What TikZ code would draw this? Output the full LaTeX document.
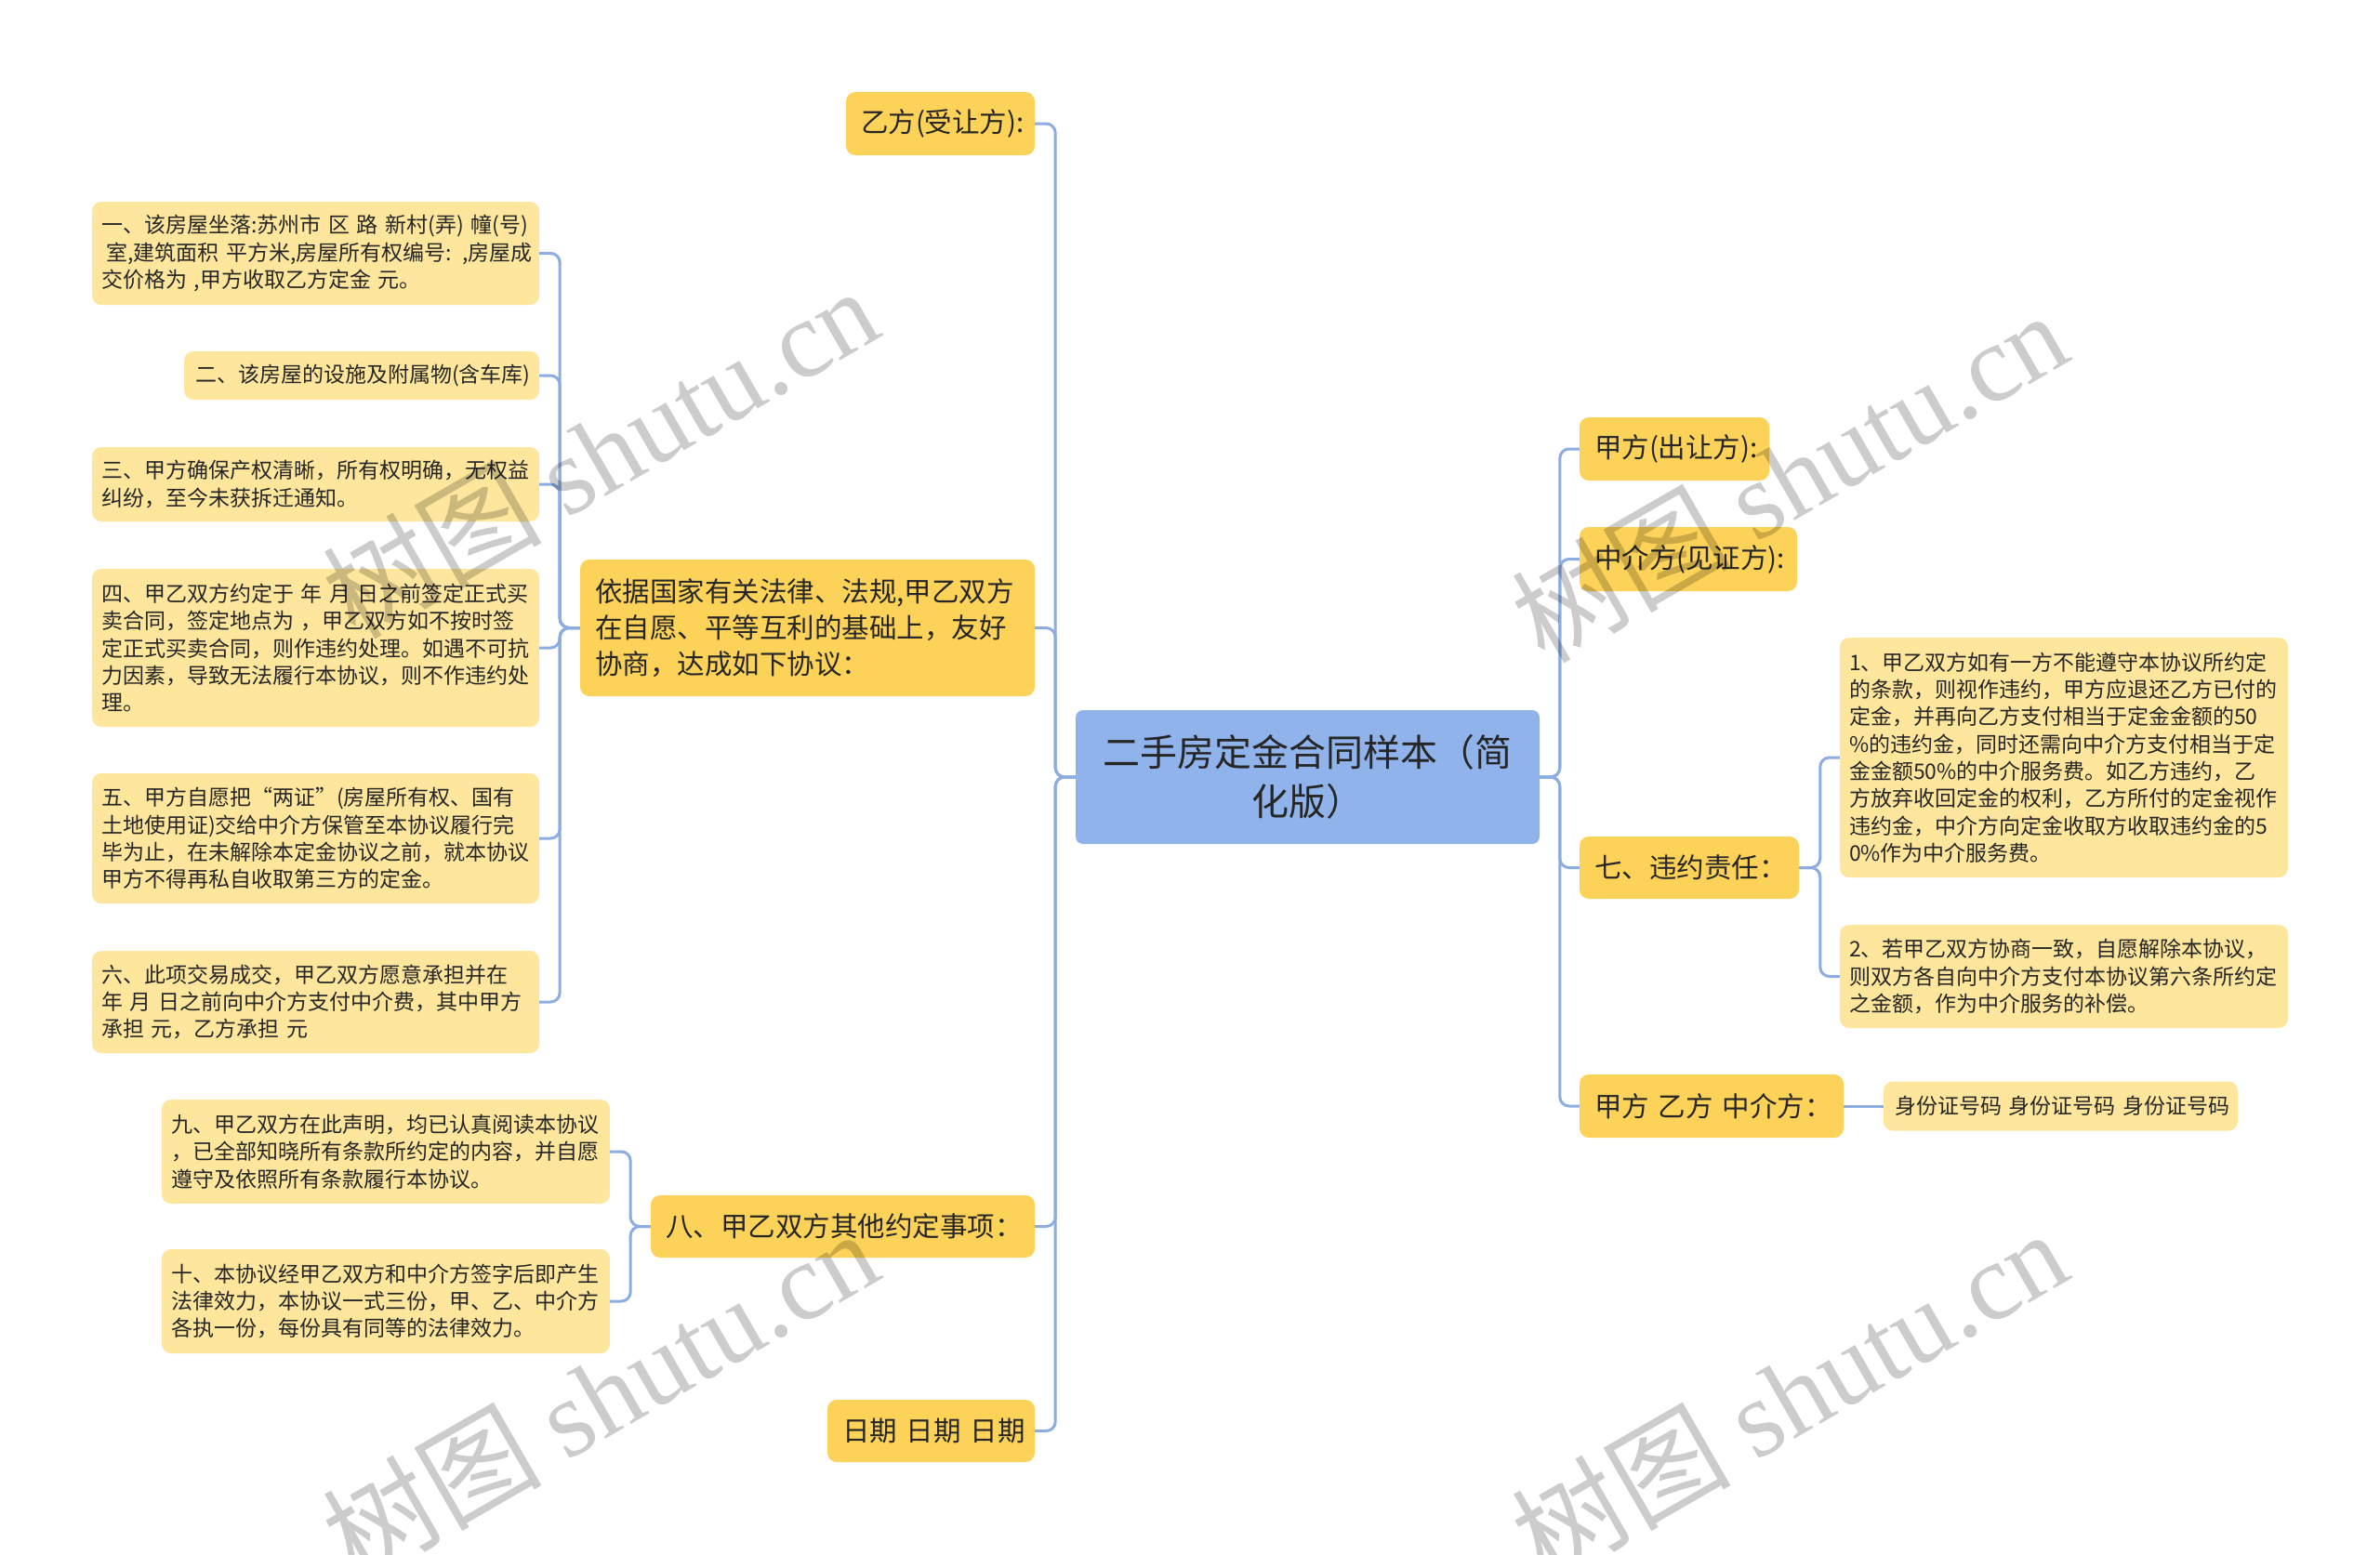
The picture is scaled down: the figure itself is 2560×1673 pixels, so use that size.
\documentclass[tikz,border=0pt]{standalone}
\usepackage{fontspec}
\setmainfont{Noto Sans CJK SC}
\newfontfamily\wmserif{Liberation Serif}
\definecolor{lone}{RGB}{253,210,88}
\definecolor{ltwo}{RGB}{254,230,156}
\definecolor{rootc}{RGB}{143,179,234}
\definecolor{linec}{RGB}{140,172,226}
\definecolor{txt}{RGB}{38,38,38}
\tikzset{
  base/.style={rounded corners=10pt, inner ysep=0pt, text=txt, align=left},
  lone/.style={base, fill=lone, inner xsep=16pt, font=\fontsize{29.5}{39}\selectfont},
  ltwo/.style={base, fill=ltwo, inner xsep=10pt, font=\fontsize{23}{29.3}\selectfont},
  rootbox/.style={rounded corners=8pt, fill=rootc, text=txt, align=center, inner xsep=10pt, inner ysep=0pt, font=\fontsize{40}{53}\selectfont},
  conn/.style={draw=linec, line width=3pt, rounded corners=10pt},
  wm/.style={text=black, text opacity=0.2, font=\fontsize{118}{124}\selectfont}
}
\begin{document}
\begin{tikzpicture}[x=1pt,y=-1pt]
\useasboundingbox (0,0) rectangle (2560,1673);
\fill[white] (0,0) rectangle (2560,1673);

% root
\node[rootbox, text width=479pt, minimum height=144pt] (root) at (1406.5,836) {二手房定金合同样本（简\\化版）};

% left level 1
\node[lone, text width=171pt, minimum height=68pt] (yi) at (1011.5,133) {\mbox{乙方(受让方):}};
\node[lone, text width=457pt, minimum height=147pt] (yiju) at (868.5,675.5) {依据国家有关法律、法规,甲乙双方\\在自愿、平等互利的基础上，友好\\协商，达成如下协议：};
\node[lone, text width=381pt, minimum height=67pt] (ba) at (906.5,1319.5) {\mbox{八、甲乙双方其他约定事项：}};
\node[lone, text width=191pt, minimum height=67pt] (riqi) at (1001.5,1539.5) {\mbox{日期 日期 日期}};

% right level 1
\node[lone, text width=172pt, minimum height=68pt] (jia) at (1801,483) {\mbox{甲方(出让方):}};
\node[lone, text width=202pt, minimum height=69pt] (zhong) at (1816,601.5) {\mbox{中介方(见证方):}};
\node[lone, text width=204pt, minimum height=67pt] (qi) at (1817,933.5) {\mbox{七、违约责任：}};
\node[lone, text width=252pt, minimum height=68pt] (jyz) at (1841,1190) {\mbox{甲方 乙方 中介方：}};

% left level 2 (under yiju)
\node[ltwo, text width=461pt, minimum height=111pt] (a1) at (339.5,272.5) {\mbox{一、该房屋坐落:苏州市 区 路 新村(弄) 幢(号)}\\\mbox{\hspace*{5pt}室,建筑面积 平方米,房屋所有权编号: ,房屋成}\\\mbox{交价格为 ,甲方收取乙方定金 元。}};
\node[ltwo, inner xsep=12pt, text width=358pt, minimum height=52pt] (a2) at (389,404) {\mbox{二、该房屋的设施及附属物(含车库)}};
\node[ltwo, text width=461pt, minimum height=80pt] (a3) at (339.5,521) {三、甲方确保产权清晰，所有权明确，无权益\\纠纷，至今未获拆迁通知。};
\node[ltwo, text width=461pt, minimum height=170pt] (a4) at (339.5,697) {\mbox{四、甲乙双方约定于 年 月 日之前签定正式买}\\\mbox{卖合同，签定地点为 ，甲乙双方如不按时签}\\定正式买卖合同，则作违约处理。如遇不可抗\\力因素，导致无法履行本协议，则不作违约处\\理。};
\node[ltwo, text width=461pt, minimum height=140pt] (a5) at (339.5,902) {五、甲方自愿把“两证”(房屋所有权、国有\\土地使用证)交给中介方保管至本协议履行完\\毕为止，在未解除本定金协议之前，就本协议\\甲方不得再私自收取第三方的定金。};
\node[ltwo, text width=461pt, minimum height=110pt] (a6) at (339.5,1078) {六、此项交易成交，甲乙双方愿意承担并在\\\mbox{年 月 日之前向中介方支付中介费，其中甲方}\\\mbox{承担 元，乙方承担 元}};

% left level 2 (under ba)
\node[ltwo, text width=462pt, minimum height=112pt] (b9) at (415,1239) {九、甲乙双方在此声明，均已认真阅读本协议\\，已全部知晓所有条款所约定的内容，并自愿\\遵守及依照所有条款履行本协议。};
\node[ltwo, text width=462pt, minimum height=112pt] (b10) at (415,1400) {十、本协议经甲乙双方和中介方签字后即产生\\法律效力，本协议一式三份，甲、乙、中介方\\各执一份，每份具有同等的法律效力。};

% right level 2
\node[ltwo, text width=462pt, minimum height=258pt] (c1) at (2220,815) {1、甲乙双方如有一方不能遵守本协议所约定\\的条款，则视作违约，甲方应退还乙方已付的\\定金，并再向乙方支付相当于定金金额的50\\\%的违约金，同时还需向中介方支付相当于定\\金金额50\%的中介服务费。如乙方违约，乙\\方放弃收回定金的权利，乙方所付的定金视作\\违约金，中介方向定金收取方收取违约金的5\\0\%作为中介服务费。};
\node[ltwo, text width=462pt, minimum height=111pt] (c2) at (2220,1050.5) {2、若甲乙双方协商一致，自愿解除本协议，\\则双方各自向中介方支付本协议第六条所约定\\之金额，作为中介服务的补偿。};
\node[ltwo, inner xsep=12pt, text width=357pt, minimum height=53pt] (sfz) at (2216.5,1190) {\mbox{身份证号码 身份证号码 身份证号码}};

% connectors
\foreach \n in {yi,yiju,ba,riqi}
  \draw[conn] (root.west) -| ([xshift=22pt]\n.east) -- (\n.east);
\foreach \n in {jia,zhong,qi,jyz}
  \draw[conn] (root.east) -| ([xshift=-21pt]\n.west) -- (\n.west);
\foreach \n in {a1,a2,a3,a4,a5,a6}
  \draw[conn] (yiju.west) -| ([xshift=22pt]\n.east) -- (\n.east);
\foreach \n in {b9,b10}
  \draw[conn] (ba.west) -| ([xshift=22pt]\n.east) -- (\n.east);
\foreach \n in {c1,c2}
  \draw[conn] (qi.east) -| ([xshift=-21pt]\n.west) -- (\n.west);
\draw[conn] (jyz.east) -- (sfz.west);

% watermarks
\node[wm, rotate=30] (w1) at (645,486) {树图 {\wmserif shutu.cn}};
\node[wm, rotate=30] (w2) at (1924,512) {树图 {\wmserif shutu.cn}};
\node[wm, rotate=30] (w3) at (645,1500) {树图 {\wmserif shutu.cn}};
\node[wm, rotate=30] (w4) at (1924,1500) {树图 {\wmserif shutu.cn}};
\end{tikzpicture}
\end{document}
